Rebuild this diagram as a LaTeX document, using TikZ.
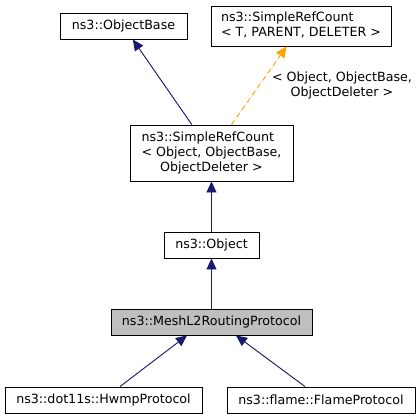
\documentclass[tikz,border=0pt]{standalone}
\usepackage{fontspec}
\setmainfont{DejaVu Sans}
\usetikzlibrary{arrows.meta}
\definecolor{edgeblue}{HTML}{191970}
\definecolor{edgeorange}{HTML}{FFA500}
\definecolor{boxgray}{HTML}{BFBFBF}
\begin{document}
\begin{tikzpicture}[x=1bp,y=-1bp,
  every node/.style={font=\fontsize{12.66bp}{15bp}\selectfont},
  cls/.style={draw=black, line width=0.9bp, fill=white, inner sep=0pt, minimum height=26bp},
  inh/.style={draw=edgeblue, line width=0.9bp, -{Triangle[length=11bp,width=10bp]}, fill=edgeblue},
  tmpl/.style={draw=edgeorange, line width=0.9bp, dash pattern=on 5bp off 4bp, -{Triangle[length=11bp,width=10bp]}, fill=edgeorange}]
\useasboundingbox (0,0) rectangle (420,419);
\node[cls, minimum width=127bp] (objbase) at (123.5,26) {ns3::ObjectBase};
\node[cls, minimum width=180bp, minimum height=40bp] (srct) at (301,26)
  {\begin{tabular}{@{}l@{}}ns3::SimpleRefCount\\< T, PARENT, DELETER >\end{tabular}};
\node[cls, minimum width=163bp, minimum height=56bp] (src) at (211.5,153)
  {\begin{tabular}{@{}l@{}}ns3::SimpleRefCount\\< Object, ObjectBase,\\\multicolumn{1}{@{}c@{}}{ObjectDeleter >}\end{tabular}};
\node[cls, minimum width=95bp] (obj) at (211.5,245) {ns3::Object};
\node[cls, fill=boxgray, minimum width=201bp] (mesh) at (211.5,322) {ns3::MeshL2RoutingProtocol};
\node[cls, minimum width=197bp] (hwmp) at (103.5,400) {ns3::dot11s::HwmpProtocol};
\node[cls, minimum width=188bp] (flame) at (321,400) {ns3::flame::FlameProtocol};
\node[inner sep=0pt, align=center] (lbl) at (342,86) {< Object, ObjectBase,\\ObjectDeleter >};
\draw[inh] (src) -- (objbase);
\draw[tmpl] (src) -- (srct);
\draw[inh] (obj) -- (src);
\draw[inh] (mesh) -- (obj);
\draw[inh] ([xshift=16.5bp]hwmp.north) -- ([xshift=-24.5bp]mesh.south);
\draw[inh] ([xshift=-16bp]flame.north) -- ([xshift=24.5bp]mesh.south);
\end{tikzpicture}
\end{document}
